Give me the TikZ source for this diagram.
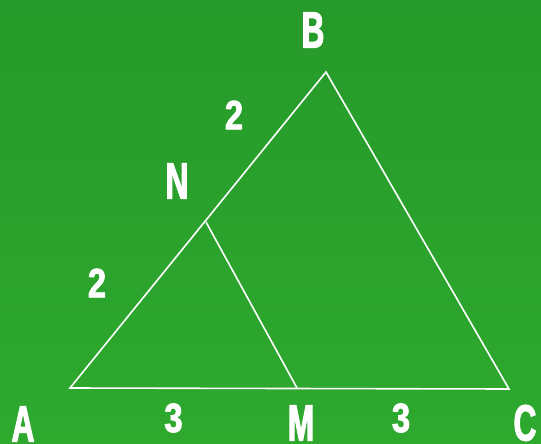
\documentclass[tikz,border=0pt]{standalone}
\usepackage{fontspec}
\newfontfamily\labfont[FakeStretch=0.62,FakeBold=2]{Liberation Sans Bold}
\newfontfamily\numfont[FakeStretch=0.8,FakeBold=2]{Liberation Sans Bold}
\definecolor{bgtop}{RGB}{38,154,42}
\definecolor{bgbot}{RGB}{46,169,46}
\begin{document}
\begin{tikzpicture}[x=1pt,y=-1pt,
  edge/.style={draw=white,line width=1.6pt,line join=miter},
  vlab/.style={text=white,font=\labfont\fontsize{51}{51}\selectfont,inner sep=0pt},
  nlab/.style={text=white,font=\numfont\fontsize{41}{41}\selectfont,inner sep=0pt}]
\shade[top color=bgtop,bottom color=bgbot] (0,0) rectangle (541,444);
\useasboundingbox (0,0) rectangle (541,444);
\coordinate (A) at (70,388);
\coordinate (B) at (326,72);
\coordinate (C) at (509,389);
\coordinate (N) at (206,222);
\coordinate (M) at (297,388);
\draw[edge] (A) -- (B) -- (C) -- cycle;
\draw[edge] (N) -- (M);
\node[vlab] (lB) at (313,30) {B};
\node[vlab] (lA) at (23,424) {A};
\node[vlab] (lM) at (301,423) {M};
\node[vlab] (lC) at (525,423) {C};
\node[vlab] (lN) at (177,181) {N};
\node[nlab] (l1) at (234,115) {2};
\node[nlab] (l2) at (97,283) {2};
\node[nlab] (l3) at (173.5,418) {3};
\node[nlab] (l4) at (401,418) {3};
\end{tikzpicture}
\end{document}
